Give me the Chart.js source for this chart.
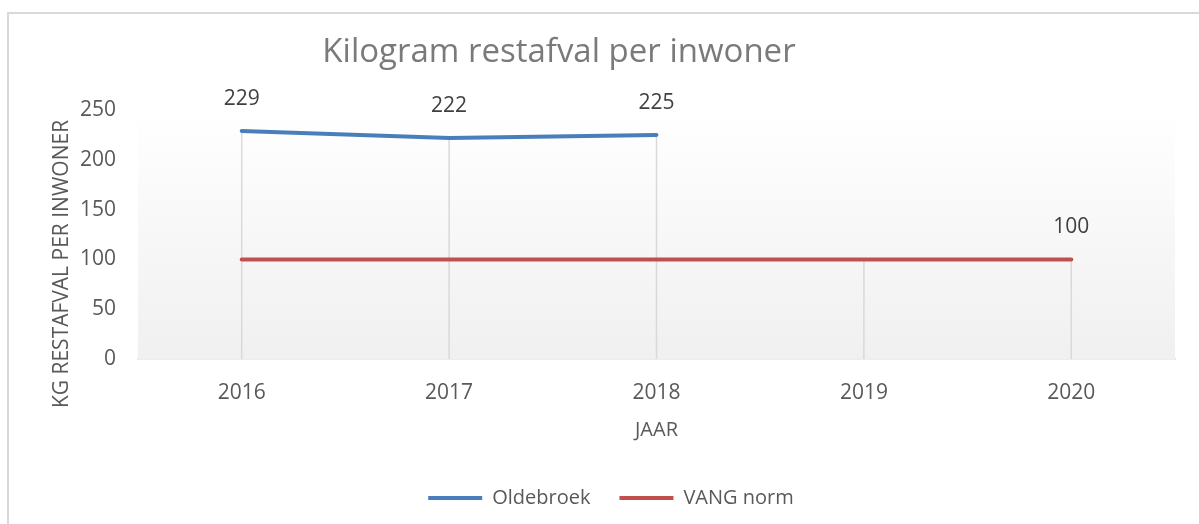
<!DOCTYPE html>
<html>
<head>
<meta charset="utf-8">
<script src="https://cdn.jsdelivr.net/npm/chart.js@4.4.1/dist/chart.umd.min.js"></script>
<style>
  body { margin: 0; overflow: hidden; background: #fff; }
  #wrap { position: relative; width: 1199px; height: 524px; }
  #frame {
    position: absolute; left: 7px; top: 12px; width: 1300px; height: 600px;
    border: 2px solid #d9d9d9; pointer-events: none;
  }
</style>
</head>
<body>
<div id="wrap">
  <canvas id="wasteChart" width="1199" height="524"></canvas>
  <div id="frame"></div>
</div>
<script>
const years = ["2016", "2017", "2018", "2019", "2020"];
const oldebroek = [229, 222, 225, null, null];
const vangNorm = [100, 100, 100, 100, 100];
// which points get a value label
const oldebroekLabelled = [true, true, true, false, false];
const vangLabelled = [false, false, false, false, true];
const yTicks = [0, 50, 100, 150, 200, 250];

const FONT = "'Open Sans', sans-serif";
const textColor = "#595959";

// grey gradient behind the plot + drop lines from the highest point
const plotBackground = {
  id: "plotBackground",
  beforeDatasetsDraw(chart) {
    const { ctx, chartArea, scales } = chart;
    const grad = ctx.createLinearGradient(0, chartArea.top, 0, chartArea.bottom);
    grad.addColorStop(0, "#ffffff");
    grad.addColorStop(1, "#f0f0f0");
    ctx.save();
    ctx.fillStyle = grad;
    ctx.fillRect(chartArea.left, chartArea.top, chartArea.width, chartArea.height);

    ctx.strokeStyle = "#d9d9d9";
    ctx.lineWidth = 1.5;
    years.forEach((yr, i) => {
      const vals = chart.data.datasets.map((d) => d.data[i]).filter((v) => v != null);
      if (!vals.length) return;
      const x = scales.x.getPixelForValue(i);
      ctx.beginPath();
      ctx.moveTo(x, scales.y.getPixelForValue(Math.max(...vals)));
      ctx.lineTo(x, chartArea.bottom);
      ctx.stroke();
    });
    ctx.restore();
  },
};

const valueLabels = {
  id: "valueLabels",
  afterDatasetsDraw(chart) {
    const { ctx, scales } = chart;
    const flags = [oldebroekLabelled, vangLabelled];
    ctx.save();
    ctx.font = "21px " + FONT;
    ctx.fillStyle = "#404040";
    ctx.textAlign = "center";
    ctx.textBaseline = "middle";
    chart.data.datasets.forEach((ds, d) => {
      ds.data.forEach((v, i) => {
        if (v == null || !flags[d][i]) return;
        ctx.fillText(String(v), scales.x.getPixelForValue(i), scales.y.getPixelForValue(v) - 32);
      });
    });
    ctx.restore();
  },
};

// chart title and y axis title, placed like the Excel original
const titles = {
  id: "titles",
  afterDraw(chart) {
    const { ctx } = chart;
    ctx.save();
    ctx.textAlign = "center";
    ctx.textBaseline = "middle";
    ctx.font = "33px " + FONT;
    ctx.fillStyle = "#7a7a7a";
    ctx.fillText("Kilogram restafval per inwoner", 559, 53);

    ctx.translate(62, 264);
    ctx.rotate(-Math.PI / 2);
    ctx.font = "21px " + FONT;
    ctx.fillStyle = textColor;
    ctx.fillText("KG RESTAFVAL PER INWONER", 0, 0);
    ctx.restore();
  },
};

const ctx = document.getElementById("wasteChart").getContext("2d");
const wasteChart = new Chart(ctx, {
  type: "line",
  data: {
    labels: years,
    datasets: [
      {
        label: "Oldebroek",
        data: oldebroek,
        borderColor: "#4a7ebb",
        backgroundColor: "#4a7ebb",
        borderWidth: 4,
        borderCapStyle: "round",
        pointRadius: 0,
        tension: 0,
      },
      {
        label: "VANG norm",
        data: vangNorm,
        borderColor: "#c0504d",
        backgroundColor: "#c0504d",
        borderWidth: 4,
        borderCapStyle: "round",
        pointRadius: 0,
        tension: 0,
      },
    ],
  },
  options: {
    responsive: false,
    animation: false,
    layout: {
      padding: { left: 47, right: 24, top: 110, bottom: 6 },
    },
    plugins: {
      title: { display: false },
      tooltip: { enabled: false },
      legend: {
        position: "bottom",
        labels: {
          boxWidth: 54,
          boxHeight: 4,
          padding: 29,
          color: textColor,
          font: { family: FONT, size: 20 },
          generateLabels: (chart) =>
            Chart.defaults.plugins.legend.labels
              .generateLabels(chart)
              .map((l) => ({ ...l, lineWidth: 0 })),
        },
      },
    },
    scales: {
      x: {
        offset: true,
        grid: { display: false, drawTicks: false },
        border: { display: true, color: "#d9d9d9", width: 1.5 },
        ticks: {
          color: textColor,
          padding: 21,
          font: { family: FONT, size: 21 },
          maxRotation: 0,
        },
        title: {
          display: true,
          text: "JAAR",
          color: textColor,
          font: { family: FONT, size: 20 },
          padding: { top: 0, bottom: 17 },
        },
        afterFit: (scale) => {
          scale.height = 100;
        },
      },
      y: {
        min: 0,
        max: 250,
        afterBuildTicks: (scale) => {
          scale.ticks = yTicks.map((v) => ({ value: v }));
        },
        grid: { display: false, drawTicks: false },
        border: { display: false },
        ticks: {
          color: textColor,
          padding: 22,
          font: { family: FONT, size: 21 },
        },
        afterFit: (scale) => {
          scale.width = 91;
        },
      },
    },
  },
  plugins: [plotBackground, valueLabels, titles],
});
</script>
</body>
</html>
